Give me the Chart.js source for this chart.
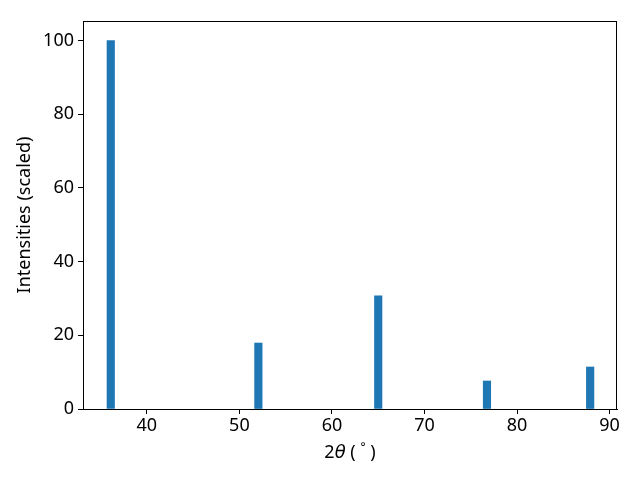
<!DOCTYPE html>
<html>
<head>
<meta charset="utf-8">
<script src="https://cdn.jsdelivr.net/npm/chart.js@4/dist/chart.umd.min.js"></script>
<style>
  body { margin: 0; background: #fff; }
</style>
</head>
<body>
<canvas id="myChart" width="640" height="480"></canvas>
<script>
// peak positions (2theta, degrees) and scaled intensities
const peakPositions = [36.1, 52.05, 65.0, 76.75, 87.9];
const peakIntensities = [100, 17.9, 30.7, 7.6, 11.4];
const xTickValues = [40, 50, 60, 70, 80, 90];
const yTickValues = [0, 20, 40, 60, 80, 100];

const FONT = 'Noto Sans';
const FONT_SIZE = 18;
Chart.defaults.font.family = FONT;
Chart.defaults.font.size = FONT_SIZE;
Chart.defaults.color = '#000';

// full box around the plot area, plus the x label with italic theta
const frameBox = {
  id: 'frameBox',
  afterDraw(chart) {
    const a = chart.chartArea;
    const ctx = chart.ctx;
    ctx.save();
    ctx.strokeStyle = '#000';
    ctx.lineWidth = 1;
    ctx.strokeRect(Math.round(a.left) + 0.5, Math.round(a.top) + 0.5,
      Math.round(a.right - a.left) - 1, Math.round(a.bottom - a.top));

    // x axis title: 2θ ( ° )
    const parts = [
      { t: '2', f: FONT_SIZE + 'px "' + FONT + '"', dy: 0 },
      { t: 'θ', f: 'italic ' + FONT_SIZE + 'px "DejaVu Sans"', dy: 0 },
      { t: ' ( ', f: FONT_SIZE + 'px "' + FONT + '"', dy: 0 },
      { t: '°', f: '12px "' + FONT + '"', dy: -5 },
      { t: ' )', f: FONT_SIZE + 'px "' + FONT + '"', dy: 0 }
    ];
    let total = 0;
    parts.forEach(p => { ctx.font = p.f; p.w = ctx.measureText(p.t).width; total += p.w; });
    let x = (a.left + a.right) / 2 - total / 2;
    const y = 453;
    ctx.fillStyle = '#000';
    ctx.textBaseline = 'middle';
    ctx.textAlign = 'left';
    parts.forEach(p => { ctx.font = p.f; ctx.fillText(p.t, x, y + p.dy); x += p.w; });
    ctx.restore();
  }
};

const canvasRef = document.getElementById('myChart');
const chart = new Chart(canvasRef, {
  type: 'bar',
  data: {
    datasets: [{
      data: peakPositions.map((p, i) => ({ x: p, y: peakIntensities[i] })),
      backgroundColor: '#1f77b4',
      barThickness: 7.5,
      borderWidth: 0
    }]
  },
  options: {
    responsive: false,
    animation: false,
    layout: { padding: { top: 21, right: 23, left: 0, bottom: 0 } },
    plugins: { legend: { display: false }, tooltip: { enabled: false } },
    scales: {
      x: {
        type: 'linear',
        min: 33.1,
        max: 90.8,
        offset: false,
        afterFit(s) { s.height = 71; },
        afterBuildTicks(s) { s.ticks = xTickValues.map(v => ({ value: v })); },
        ticks: { padding: 1, maxRotation: 0 },
        grid: { offset: false, drawOnChartArea: false, drawTicks: true, tickLength: 5, tickColor: '#000' },
        border: { display: true, color: '#000' }
      },
      y: {
        min: 0,
        max: 105.3,
        afterFit(s) { s.width = 83; },
        afterBuildTicks(s) { s.ticks = yTickValues.map(v => ({ value: v })); },
        ticks: { padding: 4 },
        grid: { drawOnChartArea: false, drawTicks: true, tickLength: 5, tickColor: '#000' },
        border: { display: true, color: '#000' },
        title: { display: true, text: 'Intensities (scaled)', padding: { top: 14, bottom: 0 } }
      }
    }
  },
  plugins: [frameBox]
});
</script>
</body>
</html>
